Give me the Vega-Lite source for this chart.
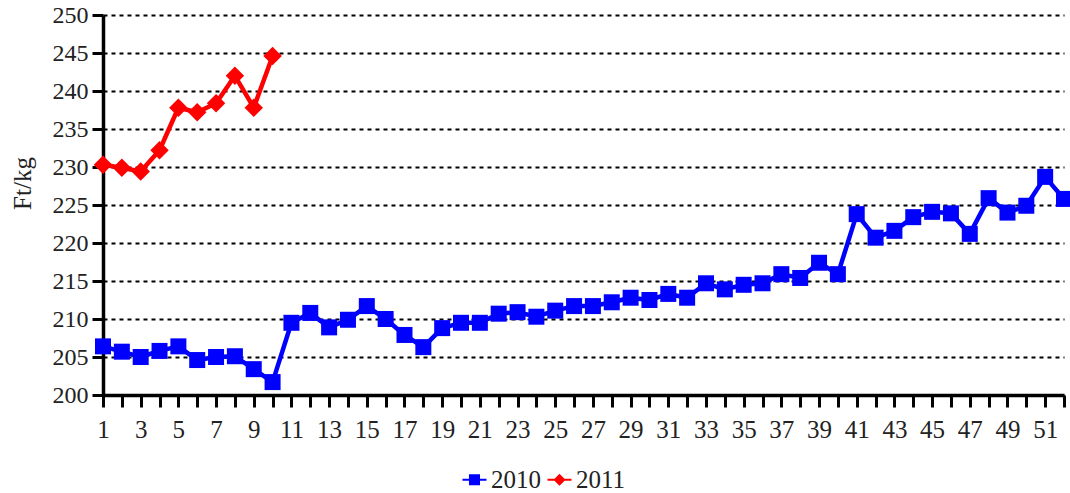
{
  "$schema": "https://vega.github.io/schema/vega-lite/v6.json",
  "autosize": {"type": "none"},
  "padding": {"left": 103, "top": 15, "right": 6, "bottom": 98},
  "width": 961,
  "height": 380,
  "background": "white",
  "config": {
    "view": {"stroke": null},
    "font": "Liberation Serif",
    "axis": {
      "labelFont": "Liberation Serif", "titleFont": "Liberation Serif",
      "labelColor": "#222", "titleColor": "#222",
      "titleFontWeight": "normal",
      "domainColor": "black", "domainWidth": 3.5,
      "tickColor": "black", "tickWidth": 3
    },
    "legend": {"labelFont": "Liberation Serif", "labelColor": "#222"}
  },
  "data": {
    "values": [
      {"week": 1, "year": "2010", "price": 206.4},
      {"week": 2, "year": "2010", "price": 205.7},
      {"week": 3, "year": "2010", "price": 205.0},
      {"week": 4, "year": "2010", "price": 205.8},
      {"week": 5, "year": "2010", "price": 206.4},
      {"week": 6, "year": "2010", "price": 204.6},
      {"week": 7, "year": "2010", "price": 205.0},
      {"week": 8, "year": "2010", "price": 205.1},
      {"week": 9, "year": "2010", "price": 203.4},
      {"week": 10, "year": "2010", "price": 201.7},
      {"week": 11, "year": "2010", "price": 209.5},
      {"week": 12, "year": "2010", "price": 210.8},
      {"week": 13, "year": "2010", "price": 208.9},
      {"week": 14, "year": "2010", "price": 209.9},
      {"week": 15, "year": "2010", "price": 211.7},
      {"week": 16, "year": "2010", "price": 210.0},
      {"week": 17, "year": "2010", "price": 207.9},
      {"week": 18, "year": "2010", "price": 206.3},
      {"week": 19, "year": "2010", "price": 208.8},
      {"week": 20, "year": "2010", "price": 209.5},
      {"week": 21, "year": "2010", "price": 209.5},
      {"week": 22, "year": "2010", "price": 210.7},
      {"week": 23, "year": "2010", "price": 210.9},
      {"week": 24, "year": "2010", "price": 210.3},
      {"week": 25, "year": "2010", "price": 211.1},
      {"week": 26, "year": "2010", "price": 211.7},
      {"week": 27, "year": "2010", "price": 211.7},
      {"week": 28, "year": "2010", "price": 212.2},
      {"week": 29, "year": "2010", "price": 212.8},
      {"week": 30, "year": "2010", "price": 212.5},
      {"week": 31, "year": "2010", "price": 213.3},
      {"week": 32, "year": "2010", "price": 212.8},
      {"week": 33, "year": "2010", "price": 214.7},
      {"week": 34, "year": "2010", "price": 213.9},
      {"week": 35, "year": "2010", "price": 214.5},
      {"week": 36, "year": "2010", "price": 214.7},
      {"week": 37, "year": "2010", "price": 215.9},
      {"week": 38, "year": "2010", "price": 215.4},
      {"week": 39, "year": "2010", "price": 217.4},
      {"week": 40, "year": "2010", "price": 215.9},
      {"week": 41, "year": "2010", "price": 223.8},
      {"week": 42, "year": "2010", "price": 220.7},
      {"week": 43, "year": "2010", "price": 221.6},
      {"week": 44, "year": "2010", "price": 223.4},
      {"week": 45, "year": "2010", "price": 224.1},
      {"week": 46, "year": "2010", "price": 223.9},
      {"week": 47, "year": "2010", "price": 221.2},
      {"week": 48, "year": "2010", "price": 225.9},
      {"week": 49, "year": "2010", "price": 224.0},
      {"week": 50, "year": "2010", "price": 224.9},
      {"week": 51, "year": "2010", "price": 228.7},
      {"week": 52, "year": "2010", "price": 225.8},
      {"week": 1, "year": "2011", "price": 230.3},
      {"week": 2, "year": "2011", "price": 229.9},
      {"week": 3, "year": "2011", "price": 229.4},
      {"week": 4, "year": "2011", "price": 232.2},
      {"week": 5, "year": "2011", "price": 237.8},
      {"week": 6, "year": "2011", "price": 237.2},
      {"week": 7, "year": "2011", "price": 238.4},
      {"week": 8, "year": "2011", "price": 242.0},
      {"week": 9, "year": "2011", "price": 237.8},
      {"week": 10, "year": "2011", "price": 244.6}
    ]
  },
  "encoding": {
    "x": {
      "field": "week", "type": "quantitative",
      "scale": {"domain": [1, 52], "nice": false, "zero": false},
      "axis": {
        "title": null,
        "values": [1,2,3,4,5,6,7,8,9,10,11,12,13,14,15,16,17,18,19,20,21,22,23,24,25,26,27,28,29,30,31,32,33,34,35,36,37,38,39,40,41,42,43,44,45,46,47,48,49,50,51,52],
        "labelExpr": "datum.value % 2 == 1 ? datum.label : ''",
        "grid": false,
        "labelFontSize": 25, "labelPadding": 10, "labelFlush": false,
        "tickSize": 12, "tickWidth": 3, "tickColor": "black",
        "domainWidth": 3.5, "domainColor": "black"
      }
    },
    "y": {
      "field": "price", "type": "quantitative",
      "scale": {"domain": [200, 250], "nice": false, "zero": false},
      "axis": {
        "title": "Ft/kg", "titleFontSize": 25,
        "titleX": -81, "titleY": 168, "titleBaseline": "middle", "titleAngle": -90, "titleAlign": "center",
        "values": [200,205,210,215,220,225,230,235,240,245,250],
        "grid": true, "gridColor": "black", "gridWidth": 2.2, "gridDash": [4, 4],
        "labelFontSize": 24, "labelPadding": 4,
        "tickSize": 11, "tickWidth": 3, "tickColor": "black",
        "domainWidth": 3.5, "domainColor": "black"
      }
    },
    "color": {
      "field": "year", "type": "nominal",
      "scale": {"domain": ["2010", "2011"], "range": ["#0000FF", "#FF0000"]},
      "legend": {
        "title": null, "orient": "none", "direction": "horizontal",
        "legendX": 359, "legendY": 452,
        "labelFontSize": 25, "symbolType": "M-1,-0.09H1V0.09H-1Z M-0.46,-0.46H0.46V0.46H-0.46Z",
        "symbolSize": 576, "symbolStrokeWidth": 0, "symbolOpacity": 1, "columnPadding": 6, "labelOffset": 4,
        "encode": {
          "symbols": {
            "update": {
              "shape": {"signal": "datum.value === '2010' ? 'M-1,-0.09H1V0.09H-1Z M-0.46,-0.46H0.46V0.46H-0.46Z' : 'M-1,-0.09H1V0.09H-1Z M0,-0.5L0.5,0L0,0.5L-0.5,0Z'"},
              "fillOpacity": {"value": 1},
              "strokeWidth": {"value": 0}
            }
          }
        }
      }
    }
  },
  "layer": [
    {
      "mark": {"type": "line", "strokeWidth": 4.5, "strokeJoin": "round"}
    },
    {
      "transform": [{"filter": "datum.year === '2010'"}],
      "mark": {"type": "point", "filled": true, "opacity": 1, "shape": "square", "size": 256}
    },
    {
      "transform": [{"filter": "datum.year === '2011'"}],
      "mark": {"type": "point", "filled": true, "opacity": 1, "shape": "diamond", "size": 340}
    }
  ]
}
